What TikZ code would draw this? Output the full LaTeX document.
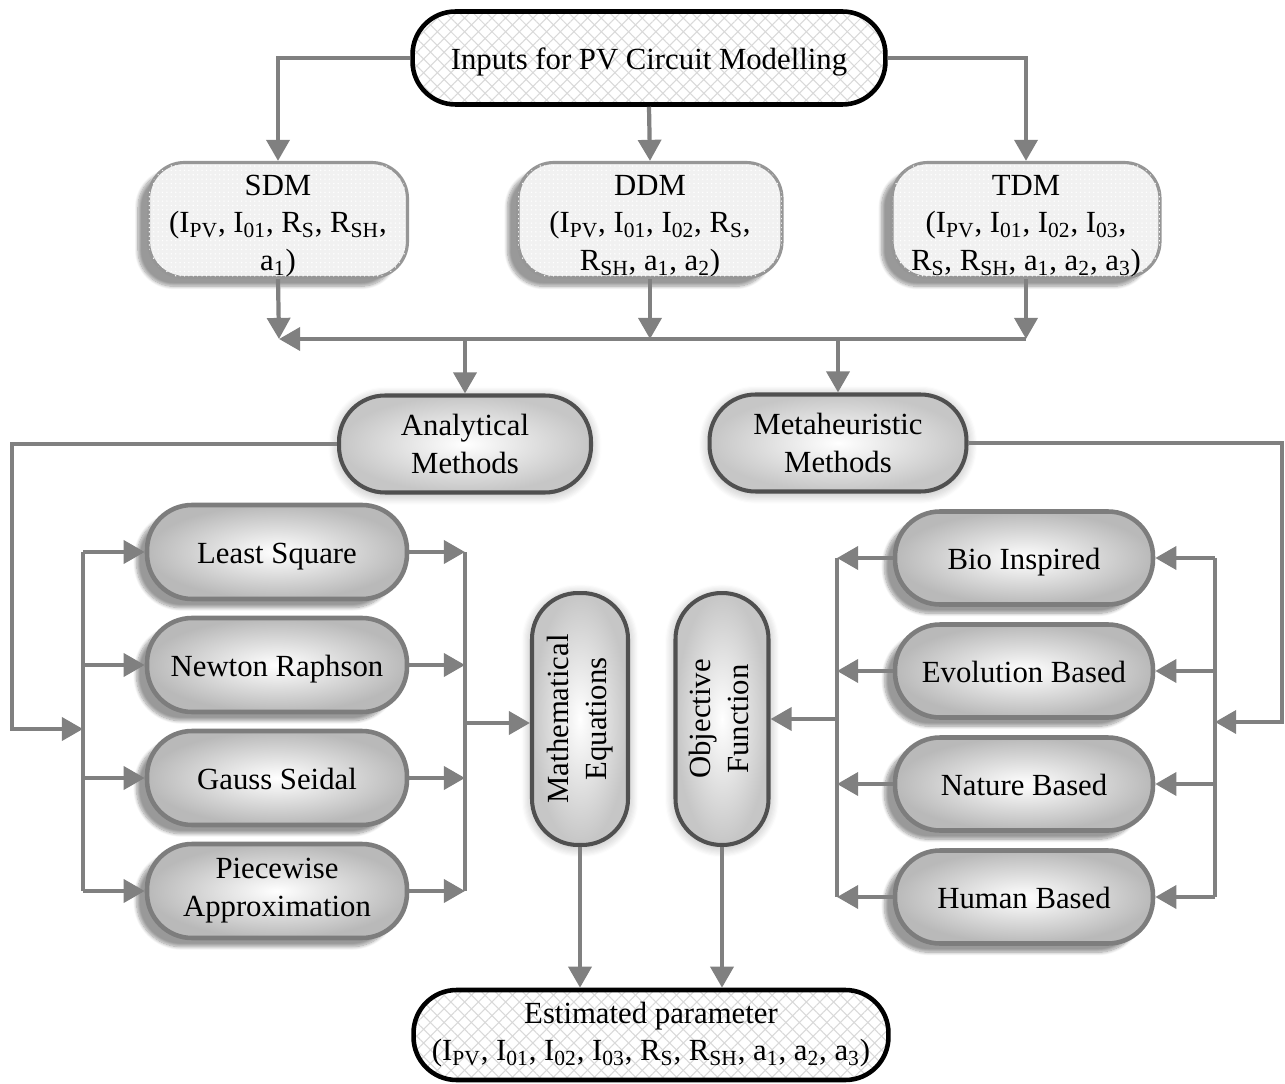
\documentclass[tikz,border=0pt]{standalone}
\usepackage{fontspec}
\setmainfont{Liberation Serif}
\usepackage{graphicx}
\usetikzlibrary{arrows.meta,patterns.meta,shadows.blur,calc}
\newcommand\sbs[1]{\textsubscript{#1}}
\newcommand\lowtab[1]{\raisebox{-3pt}[\height][\depth]{\begin{tabular}{@{}c@{}}#1\end{tabular}}}
\definecolor{cline}{RGB}{128,128,128}
\definecolor{cmod}{RGB}{150,150,150}
\definecolor{cmeth}{RGB}{80,80,80}
\definecolor{csub}{RGB}{125,125,125}
\begin{document}
\begin{tikzpicture}[x=0.02cm,y=-0.02cm,
  every node/.style={font=\fontsize{17.5}{21.5}\selectfont, align=center, inner sep=0pt},
  txt/.style={execute at begin node={\rule{0pt}{17.5pt}}, execute at end node={\rule[-4.3pt]{0pt}{4.3pt}}},
  conn/.style={draw=cline, line width=2.4pt},
  arr/.style={conn, -{Triangle[length=12pt,width=13pt]}},
  terminal/.style={draw=black, line width=2.6pt, rounded corners=0.86cm,
    preaction={fill=white},
    preaction={pattern={Lines[angle=45,distance=5.5pt,line width=0.6pt]}, pattern color=gray!30},
    preaction={pattern={Lines[angle=-45,distance=5.5pt,line width=0.6pt]}, pattern color=gray!30}},
  model/.style={draw=cmod, line width=1.8pt, rounded corners=0.72cm,
    blur shadow={shadow xshift=-6pt, shadow yshift=-5pt, shadow opacity=40, shadow blur steps=10},
    fill=gray!11,
    postaction={pattern={Dots[distance=2.5pt,radius=0.45pt]}, pattern color=white}},
  method/.style={draw=cmeth, line width=2.3pt, rounded corners=0.92cm,
    blur shadow={shadow xshift=0pt, shadow yshift=-1pt, shadow opacity=35, shadow blur steps=10, shadow blur radius=6pt},
    inner color=white, outer color=gray!45},
  sub/.style={txt, draw=csub, line width=2.6pt, rounded corners=0.9cm,
    blur shadow={shadow xshift=-6pt, shadow yshift=-5pt, shadow opacity=40, shadow blur steps=10},
    inner color=white, outer color=gray!55},
]
\useasboundingbox (0,0) rectangle (1285,1084);

% top and bottom
\node[terminal, txt, minimum width=9.46cm, minimum height=1.86cm] (inp) at (649,58) {Inputs for PV Circuit Modelling};
\node[terminal, txt, minimum width=9.5cm, minimum height=1.8cm] (est) at (651,1035)
  {Estimated parameter\\(I\sbs{PV}, I\sbs{01}, I\sbs{02}, I\sbs{03}, R\sbs{S}, R\sbs{SH}, a\sbs{1}, a\sbs{2}, a\sbs{3})};

% models
\node[model, minimum width=5.18cm, minimum height=2.3cm] (sdm) at (278,220)
  {\lowtab{SDM\\(I\sbs{PV}, I\sbs{01}, R\sbs{S}, R\sbs{SH},\\a\sbs{1})}};
\node[model, minimum width=5.28cm, minimum height=2.3cm] (ddm) at (650,220)
  {\lowtab{DDM\\(I\sbs{PV}, I\sbs{01}, I\sbs{02}, R\sbs{S},\\R\sbs{SH}, a\sbs{1}, a\sbs{2})}};
\node[model, minimum width=5.36cm, minimum height=2.3cm] (tdm) at (1026,220)
  {\lowtab{TDM\\(I\sbs{PV}, I\sbs{01}, I\sbs{02}, I\sbs{03},\\R\sbs{S}, R\sbs{SH}, a\sbs{1}, a\sbs{2}, a\sbs{3})}};

% method groups
\node[method, minimum width=5.04cm, minimum height=1.94cm] (ana) at (465,444) {Analytical\\Methods};
\node[method, minimum width=5.14cm, minimum height=1.94cm] (meta) at (838,443) {Metaheuristic\\Methods};

% analytical sub-methods
\node[sub, minimum width=5.2cm, minimum height=1.88cm] (ls) at (277,552) {Least Square};
\node[sub, minimum width=5.2cm, minimum height=1.88cm] (nr) at (277,665) {Newton Raphson};
\node[sub, minimum width=5.2cm, minimum height=1.88cm] (gs) at (277,778) {Gauss Seidal};
\node[sub, minimum width=5.2cm, minimum height=1.88cm] (pa) at (277,891) {Piecewise\\Approximation};

% metaheuristic sub-methods
\node[sub, minimum width=5.16cm, minimum height=1.86cm] (bi) at (1024,558) {Bio Inspired};
\node[sub, minimum width=5.16cm, minimum height=1.86cm] (eb) at (1024,671) {Evolution Based};
\node[sub, minimum width=5.16cm, minimum height=1.86cm] (nb) at (1024,784) {Nature Based};
\node[sub, minimum width=5.16cm, minimum height=1.86cm] (hb) at (1024,897) {Human Based};

% vertical nodes
\node[method, minimum width=1.92cm, minimum height=5.04cm] (mq) at (580,719)
  {\rotatebox{90}{\begin{tabular}{@{}c@{}}Mathematical\\Equations\end{tabular}}};
\node[method, minimum width=1.86cm, minimum height=5.04cm] (of) at (722,719)
  {\rotatebox{90}{\begin{tabular}{@{}c@{}}Objective\\Function\end{tabular}}};

% coordinates
\coordinate (busL) at (279,339);
\coordinate (busR) at (1026,339);
\coordinate (lo) at (12,729);
\coordinate (lin) at (83,729);
\coordinate (lbx) at (83,0);
\coordinate (rbx) at (465,0);
\coordinate (ro) at (1282,722);
\coordinate (rin) at (1215,722);
\coordinate (rbx2) at (1215,0);
\coordinate (lbx2) at (837,0);

% connectors top
\draw[arr] (inp.west) -| (sdm.north);
\draw[arr] (inp.east) -| (tdm.north);
\draw[arr] (inp.south) -- (ddm.north);
\draw[arr] (sdm.south) -- (busL);
\draw[arr] (ddm.south) -- (ddm.south |- busL);
\draw[arr] (tdm.south) -- (busR);
\draw[arr] (busR) -- (busL);
\draw[arr] (ana.north |- busL) -- (ana.north);
\draw[arr] (meta.north |- busL) -- (meta.north);

% left branch
\draw[arr] (ana.west) -| (lo) -- (lin);
\draw[conn] (lbx |- ls) -- (lbx |- pa);
\foreach \n in {ls,nr,gs,pa}{
  \draw[arr] (lbx |- \n) -- (\n.west);
  \draw[arr] (\n.east) -- (rbx |- \n);
}
\draw[conn] (rbx |- ls) -- (rbx |- pa);
\draw[arr] ($(rbx |- mq.west)+(0,4)$) -- ($(mq.west)+(0,4)$);

% right branch
\draw[arr] (meta.east) -| (ro) -- (rin);
\draw[conn] (rbx2 |- bi) -- (rbx2 |- hb);
\foreach \n in {bi,eb,nb,hb}{
  \draw[arr] (rbx2 |- \n) -- (\n.east);
  \draw[arr] (\n.west) -- (lbx2 |- \n);
}
\draw[conn] (lbx2 |- bi) -- (lbx2 |- hb);
\draw[arr] (lbx2 |- of.east) -- (of.east);

% bottom
\draw[arr] (mq.south) -- (mq.south |- est.north);
\draw[arr] (of.south) -- (of.south |- est.north);
\end{tikzpicture}
\end{document}
